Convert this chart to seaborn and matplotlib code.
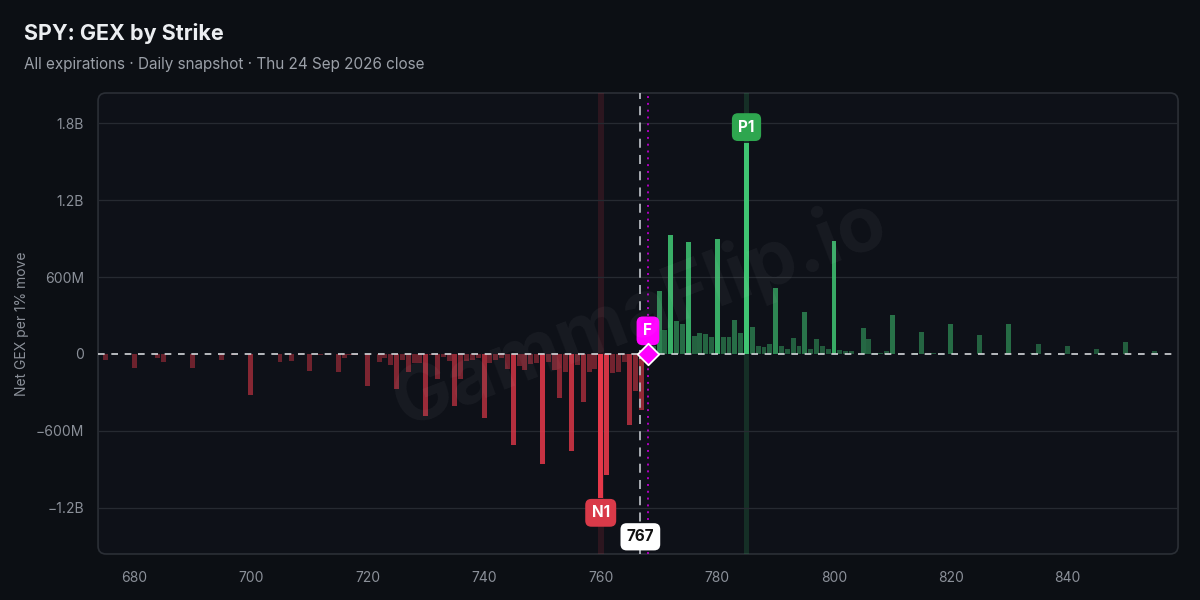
import matplotlib
matplotlib.use("Agg")
import matplotlib.pyplot as plt
from matplotlib.patches import FancyBboxPatch
from matplotlib.ticker import FuncFormatter
import numpy as np
import pandas as pd
import seaborn as sns

# strikes and net GEX (millions of $ per 1% move)
strikes = [675, 680, 684, 685, 690, 695, 697, 700, 705, 707, 710, 712, 715, 716, 717, 718,
           720, 722, 723, 724, 725, 726, 727, 728, 729, 730, 731, 732, 733, 734, 735, 736,
           737, 738, 739, 740, 741, 742, 743, 744, 745, 746, 747, 748, 749, 750, 751, 752,
           753, 754, 755, 756, 757, 758, 759, 760, 761, 762, 763, 764, 765, 766, 767,
           769, 770, 771, 772, 773, 774, 775, 776, 777, 778, 779, 780, 781, 782, 783, 784,
           785, 786, 787, 788, 789, 790, 791, 792, 793, 794, 795, 796, 797, 798, 799, 800,
           801, 802, 803, 805, 806, 807, 808, 809, 810, 814, 815, 817, 820, 825, 830, 834,
           835, 840, 845, 850, 855]
gex = [-44, -107, -29, -60, -107, -44, -8, -317, -60, -52, -130, -8, -138, -29, -10, -12,
       -247, -60, -29, -83, -270, -44, -142, -74, -74, -481, -10, -199, -25, -57, -407, -199,
       -57, -51, -35, -502, -73, -51, -30, -121, -713, -96, -128, -81, -74, -860, -60, -125,
       -345, -140, -757, -90, -376, -140, -120, -1126, -944, -150, -140, -65, -555, -290, -437,
       60, 490, 190, 926, 255, 232, 872, 140, 163, 155, 132, 895, 132, 132, 263, 163,
       1644, 210, 62, 55, 78, 514, 62, 42, 122, 60, 326, 35, 116, 61, 42, 880,
       30, 20, 20, 200, 115, 10, 5, 20, 305, 10, 175, 8, 237, 150, 237, 10,
       80, 65, 35, 95, 25]

spot = 766.8
flip = 768.1
y_ticks = [-1200, -600, 0, 600, 1200, 1800]
x_ticks = [680, 700, 720, 740, 760, 780, 800, 820, 840]

BG = "#0c0f14"
AX_BG = "#0e1118"
RED = "#e8394a"
GREEN = "#3fc472"
MAGENTA = "#ff00ff"
TXT = "#8b9099"

df = pd.DataFrame({"strike": strikes, "gex": gex}).sort_values("strike")

plt.rcParams["font.family"] = ["Inter", "DejaVu Sans"]
fig = plt.figure(figsize=(12, 6), dpi=100, facecolor=BG)
ax = fig.add_axes([0.0817, 0.0767, 0.9, 0.7683])
ax.set_facecolor("none")

frame = FancyBboxPatch((0, 0), 1, 1, boxstyle="round,pad=0,rounding_size=0.0074",
                       mutation_aspect=2.34, transform=ax.transAxes, facecolor=AX_BG,
                       edgecolor="#2b2f36", linewidth=1.2, zorder=-5, clip_on=False)
ax.add_patch(frame)

sns.barplot(data=df, x="strike", y="gex", native_scale=True, width=0.85,
            color=RED, ax=ax, zorder=2)

vmax = max(abs(v) for v in gex)
lookup = dict(zip(df["strike"], df["gex"]))
for p in ax.patches:
    if p is frame:
        continue
    xc = p.get_x() + p.get_width() / 2
    k = int(round(xc))
    if k not in lookup:
        continue
    v = lookup[k]
    r = abs(v) / vmax
    p.set_facecolor(GREEN if v > 0 else RED)
    p.set_alpha(min(1.0, 0.38 + 0.9 * r))
    p.set_edgecolor("none")

ax.set_xlim(673.8, 859)
ax.set_ylim(-1560, 2035)

# key strike bands
ax.axvspan(759.5, 760.5, color="#b8323f", alpha=0.18, zorder=0, lw=0)
ax.axvspan(784.5, 785.5, color="#2f9e5a", alpha=0.22, zorder=0, lw=0)

# grid, zero line, spot and flip
for yt in y_ticks:
    if yt != 0:
        ax.axhline(yt, color="#262a31", lw=0.9, zorder=0)
ax.axhline(0, color="#d4d6da", lw=1.2, dashes=(4, 4), zorder=4)
ax.axvline(spot, color="#b4b8be", lw=1.3, dashes=(5, 4), zorder=3)
ax.axvline(flip, color="#b000c0", lw=1.4, dashes=(1, 2.5), zorder=3)

# labels
box = "round,pad=0.42,rounding_size=0.4"
ax.text(760, -1239, "N1", ha="center", va="center", color="white", fontsize=11,
        fontweight="bold", zorder=6, bbox=dict(boxstyle=box, fc="#d93a49", ec="none"))
ax.text(785, 1769, "P1", ha="center", va="center", color="white", fontsize=11,
        fontweight="bold", zorder=6, bbox=dict(boxstyle=box, fc="#2ea64f", ec="none"))
ax.text(flip, 180, "F", ha="center", va="center", color="white", fontsize=11,
        fontweight="bold", zorder=6,
        bbox=dict(boxstyle="round,pad=0.45,rounding_size=0.4", fc=MAGENTA, ec="none"))
ax.scatter([flip], [0], marker="D", s=120, color=MAGENTA, edgecolor="white",
           linewidth=1.3, zorder=7)
ax.text(spot, -1426, "767", ha="center", va="center", color="#111111", fontsize=11,
        fontweight="bold", zorder=6,
        bbox=dict(boxstyle="round,pad=0.4,rounding_size=0.4", fc="white", ec="none"))

# watermark
fig.text(0.533, 0.478, "GammaFlip.io", ha="center", va="center", rotation=21,
         fontsize=56, fontweight="bold", color="white", alpha=0.045, zorder=10)

def fmt(v, _):
    if v == 0:
        return "0"
    s = "\u2212" if v < 0 else ""
    a = abs(v)
    if a >= 1000:
        return f"{s}{a / 1000:.1f}B"
    return f"{s}{a:.0f}M"

ax.set_yticks(y_ticks)
ax.yaxis.set_major_formatter(FuncFormatter(fmt))
ax.set_xticks(x_ticks)
ax.set_xticklabels([str(t) for t in x_ticks])
ax.tick_params(colors=TXT, labelsize=10, length=0, pad=10)
ax.tick_params(axis="x", pad=12)
for s in ax.spines.values():
    s.set_visible(False)
ax.set_xlabel("")
ax.set_ylabel("Net GEX per 1% move", color=TXT, fontsize=10)
ax.yaxis.set_label_coords(-0.064, 0.5)

fig.text(0.02, 0.945, "SPY: GEX by Strike", color="#eceef1", fontsize=15.5,
         fontweight="bold", va="center")
fig.text(0.02, 0.893, "All expirations \u00b7 Daily snapshot \u00b7 Thu 24 Sep 2026 close",
         color="#9ba0a8", fontsize=11, va="center")

fig.savefig("out.png", dpi=100, facecolor=BG)
